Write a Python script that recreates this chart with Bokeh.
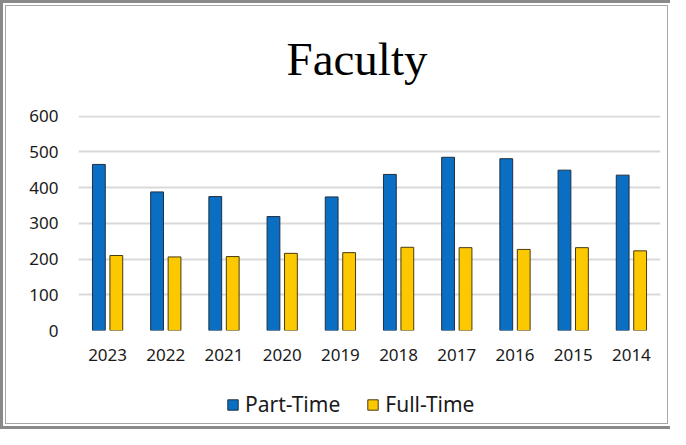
from bokeh.plotting import figure
from bokeh.layouts import column
from bokeh.models import FactorRange, Range1d, Legend, LegendItem, ColumnDataSource, FixedTicker
from bokeh.transform import dodge
from bokeh.embed import file_html
from bokeh.resources import INLINE

years = ["2023", "2022", "2021", "2020", "2019", "2018", "2017", "2016", "2015", "2014"]
part_time = [465, 388, 375, 319, 374, 437, 485, 481, 449, 435]
full_time = [210, 206, 207, 216, 218, 233, 232, 227, 232, 223]
y_ticks = [0, 100, 200, 300, 400, 500, 600]
series_names = ["Part-Time", "Full-Time"]
series_colors = ["#0a6fc2", "#fcc800"]
series_edges = ["#1d2f45", "#4a3b10"]

src = ColumnDataSource(dict(year=years, pt=part_time, ft=full_time))

p = figure(x_range=FactorRange(*years), y_range=Range1d(0, 602),
           width=670, height=379, output_backend="svg", toolbar_location=None,
           min_border_left=78, min_border_right=10, min_border_top=115, min_border_bottom=49)

p.border_fill_color = None
p.background_fill_color = None
p.outline_line_color = None

p.vbar(x=dodge("year", -0.15, range=p.x_range), top="pt", width=0.22, source=src,
       fill_color=series_colors[0], line_color=series_edges[0], line_width=1)
p.vbar(x=dodge("year", 0.15, range=p.x_range), top="ft", width=0.22, source=src,
       fill_color=series_colors[1], line_color=series_edges[1], line_width=1)

p.title.text = "Faculty"
p.title.text_font = "Liberation Serif"
p.title.text_font_size = "47px"
p.title.text_font_style = "normal"
p.title.text_color = "#000000"
p.title.align = "left"
p.title.offset = 208
p.title.standoff = 61

p.yaxis.ticker = FixedTicker(ticks=y_ticks)
p.yaxis.axis_line_color = None
p.yaxis.major_tick_line_color = None
p.yaxis.minor_tick_line_color = None
p.yaxis.major_label_standoff = 14
p.yaxis.major_label_text_font = "Noto Sans"
p.yaxis.major_label_text_font_size = "17px"
p.yaxis.major_label_text_color = "#1a1a1a"

p.xaxis.axis_line_color = None
p.xaxis.major_tick_line_color = None
p.xaxis.minor_tick_line_color = None
p.xaxis.major_label_standoff = 12
p.xaxis.major_label_text_font = "Noto Sans"
p.xaxis.major_label_text_font_size = "17px"
p.xaxis.major_label_text_color = "#1a1a1a"

p.xgrid.grid_line_color = None
p.ygrid.grid_line_color = "#d9d9d9"
p.ygrid.grid_line_width = 2

# legend strip below the chart (its frame is aligned with the chart's frame)
lf = figure(width=670, height=50, output_backend="svg", toolbar_location=None,
            x_range=Range1d(0, 1), y_range=Range1d(0, 1),
            x_axis_type=None, y_axis_type=None, min_border=0)
lf.border_fill_color = None
lf.background_fill_color = None
lf.outline_line_color = None
lf.grid.grid_line_color = None
hidden = ColumnDataSource(dict(x=[-5.0], top=[-5.0]))
items = []
for name, col, edge in zip(series_names, series_colors, series_edges):
    r = lf.vbar(x="x", top="top", bottom=-6.0, width=0.1, source=hidden,
                fill_color=col, line_color=edge, line_width=1)
    items.append(LegendItem(label=name, renderers=[r]))

legend = Legend(items=items, orientation="horizontal", location=(148, 11),
                border_line_color=None, background_fill_alpha=0,
                label_text_font="Noto Sans", label_text_font_size="21px",
                label_text_color="#1a1a1a", label_height=20,
                glyph_width=13, glyph_height=13, spacing=26, label_standoff=6,
                padding=0, margin=0)
lf.add_layout(legend, "center")

layout = column(p, lf, spacing=0)
layout.styles = {"background-color": "white",
                 "box-shadow": "inset 3px 3px 0 0 #8a8a8a, inset 0 -3px 0 0 #8a8a8a, inset 5px 5px 0 0 #ffffff, inset -2px -5px 0 0 #ffffff, inset 6px 6px 0 0 #a6a6a6, inset -3px -6px 0 0 #a6a6a6"}

open("out.html", "w").write(file_html(layout, INLINE))
